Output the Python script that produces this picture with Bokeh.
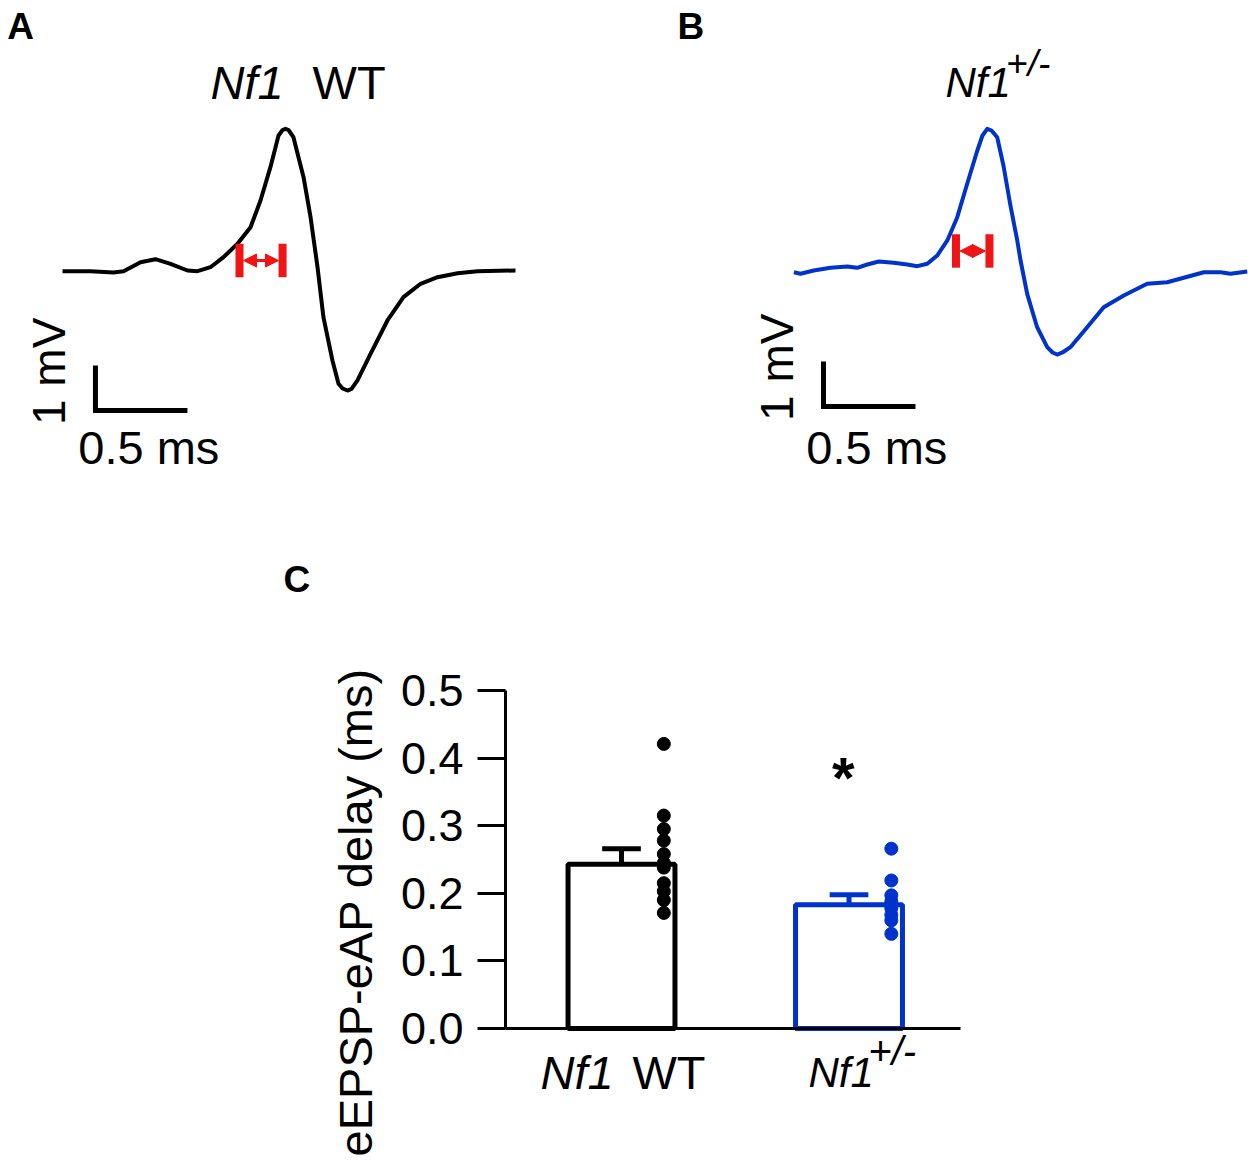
import numpy as np
from bokeh.plotting import figure
from bokeh.layouts import column, row
from bokeh.models import Range1d, Label, Arrow, NormalHead, FixedTicker, LinearAxis
from bokeh.embed import file_html
from bokeh.resources import INLINE

FONT = "Liberation Sans"
BLACK = "#000000"
BLUE = "#0033cc"
RED = "#f01414"

# ---------------- data ----------------
# Panel A: Nf1 WT field potential trace (time in ms, voltage in mV, baseline = 0)
wt_t = [0.000, 0.152, 0.277, 0.332, 0.424, 0.505, 0.587, 0.679, 0.734, 0.804, 0.875,
        0.951, 1.022, 1.076, 1.130, 1.174, 1.196, 1.212, 1.228, 1.255, 1.310, 1.348,
        1.386, 1.418, 1.467, 1.500, 1.522, 1.549, 1.571, 1.603, 1.674, 1.766, 1.853,
        1.946, 2.038, 2.147, 2.255, 2.462]
wt_v = [-0.004, -0.004, -0.033, -0.004, 0.196, 0.262, 0.160, 0.011, -0.004, 0.084, 0.307,
        0.604, 0.973, 1.567, 2.307, 3.011, 3.133, 3.160, 3.133, 2.973, 2.084, 1.196,
        0.084, -1.027, -1.989, -2.507, -2.611, -2.656, -2.622, -2.433, -1.840, -1.100, -0.582,
        -0.284, -0.138, -0.049, -0.004, 0.011]

# Panel B: Nf1+/- trace
het_t = [0.002, 0.038, 0.110, 0.201, 0.292, 0.346, 0.401, 0.464, 0.545, 0.618, 0.673,
         0.727, 0.781, 0.836, 0.890, 0.944, 0.999, 1.027, 1.053, 1.076, 1.107, 1.141,
         1.179, 1.216, 1.234, 1.270, 1.324, 1.379, 1.408, 1.433, 1.462, 1.505, 1.596,
         1.686, 1.795, 1.922, 2.031, 2.121, 2.230, 2.321, 2.375, 2.466]
het_v = [-0.027, -0.062, 0.011, 0.071, 0.100, 0.071, 0.144, 0.211, 0.182, 0.144, 0.107,
         0.160, 0.344, 0.678, 1.196, 1.938, 2.678, 3.011, 3.160, 3.122, 2.973, 2.344,
         1.456, 0.678, 0.233, -0.507, -1.249, -1.693, -1.811, -1.856, -1.811, -1.693, -1.249,
         -0.804, -0.544, -0.284, -0.249, -0.151, -0.027, -0.027, -0.062, -0.011]

# eEPSP-eAP delay markers: (start ms, end ms, level mV)
wt_delay = [0.962, 1.196, 0.233]
het_delay = [0.883, 1.065, 0.444]

# Panel C: summary
group_x = [1, 2]
group_mean = [0.243, 0.183]
group_sem = [0.023, 0.015]
wt_points = [0.421, 0.315, 0.295, 0.278, 0.258, 0.245, 0.238, 0.215, 0.203, 0.190, 0.171]
het_points = [0.266, 0.219, 0.197, 0.188, 0.178, 0.168, 0.160, 0.140]
y_ticks = [0.0, 0.1, 0.2, 0.3, 0.4, 0.5]
y_tick_labels = ["0.0", "0.1", "0.2", "0.3", "0.4", "0.5"]

# ---------------- helpers ----------------
def lab(p, x, y, text, size="47px", style="normal", align="left", baseline="middle",
        angle=0.0, color=BLACK):
    p.add_layout(Label(x=x, y=y, text=text, text_font=FONT, text_font_size=size,
                       text_font_style=style, text_align=align, text_baseline=baseline,
                       angle=angle, text_color=color))


def trace_fig(width, xr, t, v, color, delay, sb):
    p = figure(width=width, height=508, x_range=Range1d(*xr), y_range=Range1d(-5.278, 6.011),
               output_backend="svg", toolbar_location=None, x_axis_location=None,
               y_axis_location=None, min_border=0, outline_line_color=None)
    p.grid.visible = False
    p.line(t, v, line_color=color, line_width=4, line_join="round")
    # delay marker
    l, r, c = delay
    h = 0.37
    p.segment(x0=[l, r], y0=[c - h, c - h], x1=[l, r], y1=[c + h, c + h],
              line_color=RED, line_width=8, line_cap="butt")
    d = 0.022
    p.add_layout(Arrow(start=NormalHead(size=13, fill_color=RED, line_color=RED),
                       end=NormalHead(size=13, fill_color=RED, line_color=RED),
                       x_start=l + d, x_end=r - d, y_start=c, y_end=c,
                       line_color=RED, line_width=3))
    # scale bar (0.5 ms x 1 mV)
    t0, v0 = sb
    p.line([t0, t0, t0 + 0.5], [v0 + 1.0, v0, v0], line_color=BLACK, line_width=5,
           line_join="miter", line_cap="butt")
    lab(p, t0 - 0.255, v0 + 0.87, "1 mV", size="46px", align="center", angle=np.pi / 2)
    lab(p, t0 + 0.29, -3.92, "0.5 ms", size="47px", align="center")
    return p


# ---------------- panel A ----------------
pa = trace_fig(628, (-0.337, 3.076), wt_t, wt_v, BLACK, wt_delay, (0.179, -3.1))
lab(pa, -0.30, 5.444, "A", size="37px", style="bold")
lab(pa, 0.804, 4.178, "Nf1", style="italic")
lab(pa, 1.359, 4.178, "WT")

# ---------------- panel B ----------------
pb = trace_fig(626, (-0.8967, 2.5054), het_t, het_v, BLUE, het_delay, (0.163, -3.01))
lab(pb, -0.63, 5.444, "B", size="37px", style="bold")
lab(pb, 0.826, 4.178, "Nf1", size="42px", style="italic")
lab(pb, 1.155, 4.62, "+/-", size="37px", style="italic")

# ---------------- panel C ----------------
pc = figure(width=1254, height=654, x_range=Range1d(-1.7297, 3.7824),
            y_range=Range1d(-0.1982, 0.7692), output_backend="svg", toolbar_location=None,
            x_axis_location=None, y_axis_location=None, min_border=0,
            outline_line_color=None)
pc.grid.visible = False

yax = LinearAxis(fixed_location=0.4901, bounds=(0, 0.5), ticker=FixedTicker(ticks=y_ticks),
                 major_label_overrides={t: s for t, s in zip(y_ticks, y_tick_labels)})
xax = LinearAxis(fixed_location=0, bounds=(0.4901, 2.49), ticker=FixedTicker(ticks=[]))
for ax in (yax, xax):
    ax.axis_line_width = 3
    ax.major_tick_line_width = 3
    ax.axis_line_color = BLACK
    ax.major_tick_line_color = BLACK
    ax.minor_tick_line_color = None
    ax.major_tick_in = 0
    ax.major_tick_out = 28
yax.major_label_text_font = FONT
yax.major_label_text_font_size = "45px"
yax.major_label_text_color = BLACK
yax.major_label_standoff = 14
xax.major_label_text_font_size = "0px"
pc.add_layout(yax, "left")
pc.add_layout(xax, "below")

colors = [BLACK, BLUE]
pc.vbar(x=group_x, top=group_mean, bottom=0, width=0.47, fill_color="white",
        line_color=colors, line_width=5)
err_top = [m + s for m, s in zip(group_mean, group_sem)]
pc.segment(x0=group_x, y0=group_mean, x1=group_x, y1=err_top, line_color=colors, line_width=5)
pc.segment(x0=[x - 0.085 for x in group_x], y0=err_top, x1=[x + 0.085 for x in group_x],
           y1=err_top, line_color=colors, line_width=5, line_cap="butt")
pc.scatter(x=[group_x[0] + 0.186] * len(wt_points), y=wt_points, size=13, color=BLACK)
pc.scatter(x=[group_x[1] + 0.186] * len(het_points), y=het_points, size=13, color=BLUE)

lab(pc, 1.975, 0.372, "*", size="58px", style="bold", align="center")
lab(pc, -0.169, 0.172, "eEPSP-eAP delay (ms)", align="center", angle=np.pi / 2)
lab(pc, 0.644, -0.0651, "Nf1", style="italic")
lab(pc, 1.048, -0.0651, "WT")
lab(pc, 1.822, -0.0651, "Nf1", size="42px", style="italic")
lab(pc, 2.085, -0.0340, "+/-", size="40px", style="italic")
lab(pc, -0.486, 0.6635, "C", size="37px", style="bold")

layout = column(row(pa, pb), pc)
open("out.html", "w").write(file_html(layout, INLINE))
